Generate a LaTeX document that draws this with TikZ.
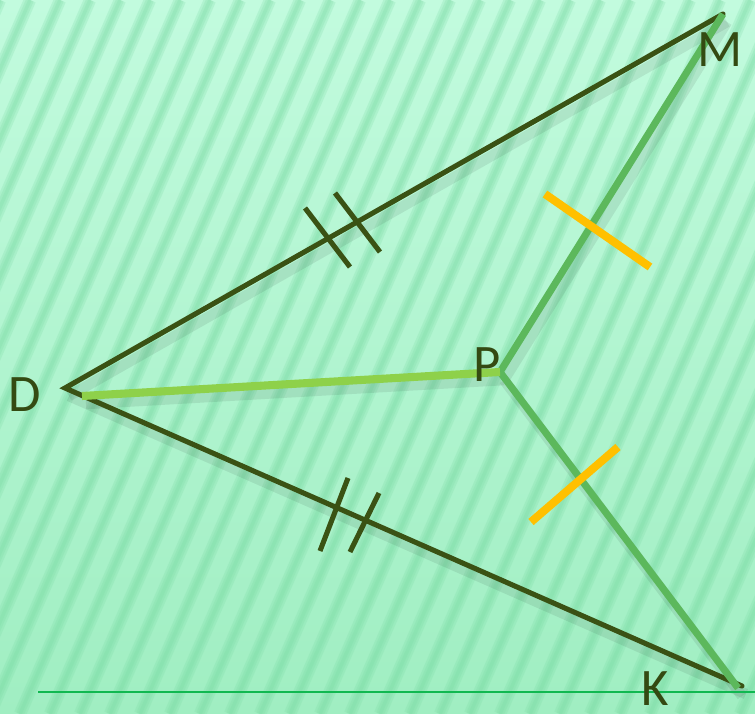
\documentclass[tikz,border=0pt]{standalone}
\usepackage{fontspec}
\setmainfont{Carlito}
\usetikzlibrary{calc}
\definecolor{Olive}{RGB}{58,82,20}
\definecolor{Leaf}{RGB}{92,184,92}
\definecolor{Lime}{RGB}{142,209,74}
\definecolor{Amber}{RGB}{255,192,0}
\definecolor{BgTop}{RGB}{194,251,222}
\definecolor{BgBot}{RGB}{160,238,194}
\definecolor{Stripe}{RGB}{120,218,162}
\definecolor{Base}{RGB}{16,184,80}

\begin{document}
\begin{tikzpicture}[x=0.02cm,y=-0.02cm,
    side/.style={line width=2.9pt, Olive, line cap=round},
    arm/.style={line width=4pt, Leaf},
    tickline/.style={line width=2.9pt, Olive},
    amberline/.style={line width=4.6pt, Amber},
    shadowline/.style={line width=6pt, black, opacity=0.08},
    stripeline/.style={Stripe, opacity=0.22},
    lbl/.style={font=\fontsize{30}{30}\selectfont, text=Olive!90!black, inner sep=0pt}]
  \useasboundingbox (0,0) rectangle (755,714);
  % background with stripes
  \shade[top color=BgTop, bottom color=BgBot] (0,0) rectangle (755,714);
  \begin{scope}
    \clip (0,0) rectangle (755,714);
    \foreach \s in {-340,-310,...,780} {
      \draw[stripeline, line width=7pt] (\s,714) -- (\s+310,0);
      \draw[stripeline, line width=4.5pt] (\s,714) -- (\s+310,0);
      \draw[stripeline, line width=2pt] (\s,714) -- (\s+310,0);
    }
  \end{scope}
  % points
  \coordinate (D) at (65,388);
  \coordinate (M) at (723,14);
  \coordinate (K) at (742,686);
  \coordinate (P) at (500,372);
  \coordinate (D2) at (82,396);
  \coordinate (K2) at (738,688);
  % shadows
  \draw[shadowline] ($(D)+(4,8)$) -- ($(M)+(4,8)$);
  \draw[shadowline] ($(D)+(4,8)$) -- ($(K)+(4,8)$);
  \draw[shadowline] ($(P)+(4,8)$) -- ($(M)+(4,8)$);
  \draw[shadowline] ($(P)+(4,8)$) -- ($(K2)+(4,8)$);
  \draw[shadowline] ($(D2)+(4,8)$) -- ($(P)+(4,8)$);
  % base line
  \coordinate (b1) at (38,692);
  \coordinate (b2) at (755,692);
  \draw[Base, line width=1.3pt] (b1) -- (b2);
  % sides
  \draw[side] (M) -- (D) -- (K);
  \draw[arm] (M) -- (P) -- (K2);
  \draw[line width=4.6pt, Lime] (D2) -- (P);
  % equal marks on DM and DK
  \coordinate (t1a) at (305,208); \coordinate (t1b) at (350,267);
  \coordinate (t2a) at (335,193); \coordinate (t2b) at (380,252);
  \coordinate (t3a) at (348,478); \coordinate (t3b) at (320,551);
  \coordinate (t4a) at (379,493); \coordinate (t4b) at (350,552);
  \draw[tickline] (t1a) -- (t1b);
  \draw[tickline] (t2a) -- (t2b);
  \draw[tickline] (t3a) -- (t3b);
  \draw[tickline] (t4a) -- (t4b);
  % equal marks on PM and PK
  \coordinate (o1a) at (545,194); \coordinate (o1b) at (650,267);
  \coordinate (o2a) at (618,447); \coordinate (o2b) at (531,522);
  \draw[amberline] (o1a) -- (o1b);
  \draw[amberline] (o2a) -- (o2b);
  % labels
  \node[lbl] (lD) at (25,395) {D};
  \node[lbl] (lP) at (487,365) {P};
  \node[lbl] (lM) at (720,50) {M};
  \node[lbl] (lK) at (655,689) {K};
\end{tikzpicture}
\end{document}
